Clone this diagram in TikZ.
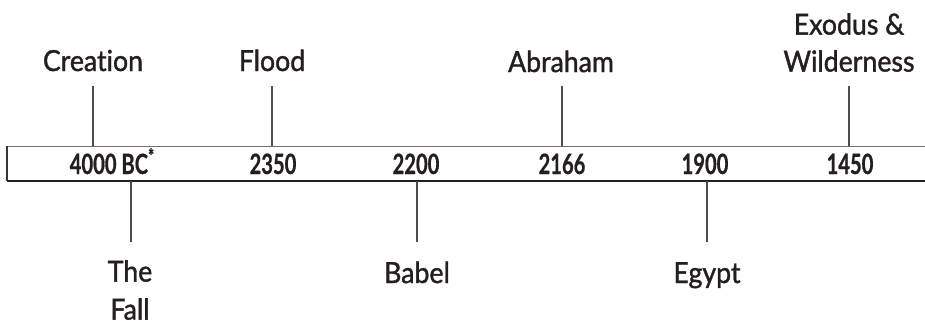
\documentclass[tikz,border=0pt]{standalone}
\usepackage{fontspec}
\setmainfont{Lato}[FakeStretch=0.92,FakeBold=1.3,Ligatures=NoCommon]
\newfontfamily\yearfont{Lato}[FakeStretch=0.72,FakeBold=0.6,Ligatures=NoCommon]
\definecolor{ink}{HTML}{231F20}
\definecolor{tickgray}{HTML}{4D4D4D}
\begin{document}
\begin{tikzpicture}[x=1pt,y=-1pt,
  evlabel/.style={inner sep=0pt,text=ink,align=center,
    font=\fontsize{29}{38}\selectfont},
  yearlabel/.style={inner sep=0pt,anchor=base,text=ink,
    font=\yearfont\bfseries\fontsize{28}{30}\selectfont},
  tickline/.style={draw=tickgray,line width=1.5pt},
  bartop/.style={draw=tickgray!80,line width=1pt},
  barbot/.style={draw=ink,line width=2pt},
  barside/.style={draw=ink!90,line width=1.8pt}]
\useasboundingbox (0,0) rectangle (925,325);
% bar
\coordinate (tl) at (7,146);
\coordinate (tr) at (925,146);
\coordinate (bl) at (7,181);
\coordinate (br) at (925,181);
\draw[bartop] (tl) -- (tr);
\draw[barbot] (bl) -- (br);
\draw[barside] (tl) -- (bl);
% years
\node[yearlabel] (y4000) at (112,174) {4000 BC\raisebox{0.38em}{\fontsize{20}{20}\selectfont*}};
\node[yearlabel] (y2350) at (273,174) {2350};
\node[yearlabel] (y2200) at (416,174) {2200};
\node[yearlabel] (y2166) at (562,174) {2166};
\node[yearlabel] (y1900) at (705,174) {1900};
\node[yearlabel] (y1450) at (850,174) {1450};
% labels above
\node[evlabel,anchor=base] (creation) at (93,71) {Creation};
\node[evlabel,anchor=base] (flood) at (272,71) {Flood};
\node[evlabel,anchor=base] (abraham) at (561,72) {Abraham};
\node[evlabel,anchor=south,font=\fontsize{29}{37}\selectfont] (exodus) at (849,72) {Exodus \&\\Wilderness};
% labels below
\node[evlabel,anchor=south] (fall) at (130,320) {The\\Fall};
\node[evlabel,anchor=base] (babel) at (417,283) {Babel};
\node[evlabel,anchor=base] (egypt) at (707,283) {Egypt};
% tick ends
\coordinate (tcreation) at (93,86);
\coordinate (tflood) at (272,86);
\coordinate (tabraham) at (562,86);
\coordinate (texodus) at (849,86);
\coordinate (tfall) at (131,242);
\coordinate (tbabel) at (417,242);
\coordinate (tegypt) at (707,242);
\draw[tickline] (tcreation) -- (tcreation |- tl);
\draw[tickline] (tflood) -- (tflood |- tl);
\draw[tickline] (tabraham) -- (tabraham |- tl);
\draw[tickline] (texodus) -- (texodus |- tl);
\draw[tickline] (tfall) -- (tfall |- bl);
\draw[tickline] (tbabel) -- (tbabel |- bl);
\draw[tickline] (tegypt) -- (tegypt |- bl);
\end{tikzpicture}
\end{document}
